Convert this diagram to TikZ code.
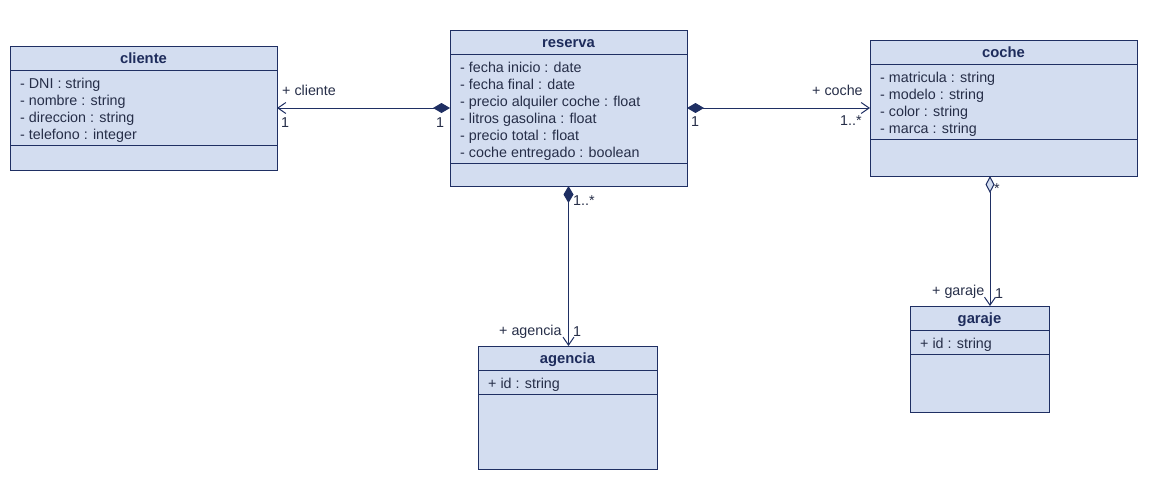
\documentclass[tikz,border=0pt]{standalone}
\usepackage{fontspec}
\setmainfont{Liberation Sans}
\usetikzlibrary{arrows.meta}
\definecolor{fillc}{HTML}{D3DDF0}
\definecolor{linec}{HTML}{1F2F63}
\definecolor{textc}{HTML}{262E48}
\definecolor{titlec}{HTML}{1E2C5C}
\tikzset{
  classbox/.style={draw=linec, fill=fillc, line width=1pt, inner sep=0pt, outer sep=0pt, anchor=north west},
  ctitle/.style={anchor=base, inner sep=0pt, text=titlec, font=\fontsize{14.8}{17}\selectfont\bfseries},
  sepline/.style={draw=linec, line width=1pt},
  lbl/.style={anchor=base west, inner sep=0pt, text=textc, font=\fontsize{14.3}{17}\selectfont},
  conn/.style={draw=linec, line width=1pt},
  umlcomp/.tip={Diamond[length=17pt,width=10pt,fill=linec]},
  umlaggr/.tip={Diamond[open,length=17pt,width=9pt,fill=fillc]},
  umlnav/.tip={Straight Barb[length=8pt,width=11pt]}
}
\begin{document}
\begin{tikzpicture}[x=1pt,y=-1pt]
\useasboundingbox (0,0) rectangle (1172,485);
\fill[white] (0,0) rectangle (1172,485);

% cliente
\node[classbox, minimum width=267pt, minimum height=124pt] (cliente) at (10,46) {};
\node[ctitle] (clienteT) at (143.5,63) {cliente};
\draw[sepline] (10,70) -- (277,70);
\draw[sepline] (10,145) -- (277,145);
\foreach \t [count=\i from 0] in {- DNI : string, - nombre : string, - direccion : string, - telefono : integer}
  \node[lbl] (clienteA\i) at (20,88+17*\i) {\t};

% reserva
\node[classbox, minimum width=237pt, minimum height=156pt] (reserva) at (450,30) {};
\node[ctitle] (reservaT) at (568.5,47) {reserva};
\draw[sepline] (450,54) -- (687,54);
\draw[sepline] (450,163) -- (687,163);
\foreach \t [count=\i from 0] in {- fecha inicio : date, - fecha final : date, - precio alquiler coche : float, - litros gasolina : float, - precio total : float, - coche entregado : boolean}
  \node[lbl] (reservaA\i) at (460,72+17*\i) {\t};

% coche
\node[classbox, minimum width=267pt, minimum height=136pt] (coche) at (870,40) {};
\node[ctitle] (cocheT) at (1003.5,57) {coche};
\draw[sepline] (870,64) -- (1137,64);
\draw[sepline] (870,139) -- (1137,139);
\foreach \t [count=\i from 0] in {- matricula : string, - modelo : string, - color : string, - marca : string}
  \node[lbl] (cocheA\i) at (880,82+17*\i) {\t};

% garaje
\node[classbox, minimum width=139pt, minimum height=106pt] (garaje) at (910,306) {};
\node[ctitle] (garajeT) at (979.5,323) {garaje};
\draw[sepline] (910,330) -- (1049,330);
\draw[sepline] (910,354) -- (1049,354);
\node[lbl] (garajeA) at (920,348) {+ id : string};

% agencia
\node[classbox, minimum width=179pt, minimum height=123pt] (agencia) at (478,346) {};
\node[ctitle] (agenciaT) at (567.5,363) {agencia};
\draw[sepline] (478,370) -- (657,370);
\draw[sepline] (478,394) -- (657,394);
\node[lbl] (agenciaA) at (488,388) {+ id : string};

% connectors
\coordinate (gx) at (990,0);
\draw[conn, umlcomp-umlnav] (reserva.west) -- (cliente.east);
\draw[conn, umlcomp-umlnav] (reserva.east) -- (coche.west);
\draw[conn, umlcomp-umlnav] (reserva.south) -- (reserva.south |- agencia.north);
\draw[conn, umlaggr-umlnav] (coche.south -| gx) -- (garaje.north -| gx);

% labels
\node[lbl] (l1) at (282,95) {+ cliente};
\node[lbl] (l2) at (281,127) {1};
\node[lbl] (l3) at (436,127) {1};
\node[lbl] (l4) at (691,126) {1};
\node[lbl] (l5) at (812,95) {+ coche};
\node[lbl] (l6) at (840,125) {1..*};
\node[lbl] (l7) at (573,205) {1..*};
\node[lbl] (l8) at (499,335) {+ agencia};
\node[lbl] (l9) at (573,336) {1};
\node[lbl] (l10) at (994,193) {*};
\node[lbl] (l11) at (932,295) {+ garaje};
\node[lbl] (l12) at (995,298) {1};
\end{tikzpicture}
\end{document}
